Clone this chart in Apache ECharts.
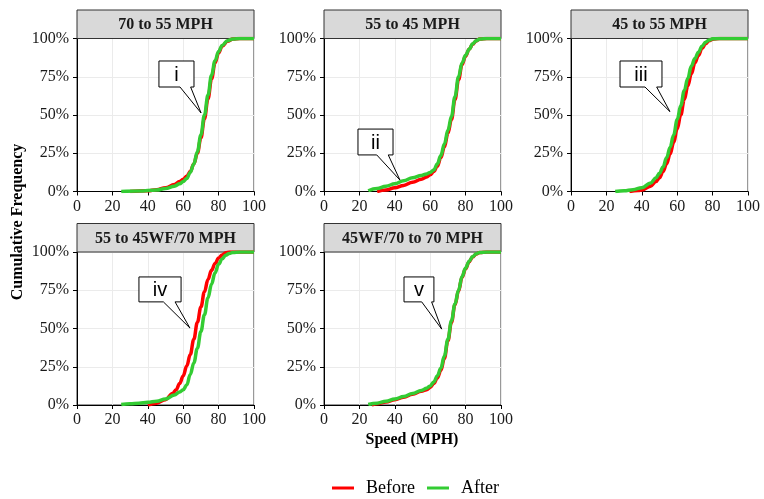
<!DOCTYPE html>
<html>
<head>
<meta charset="utf-8">
<script src="https://cdn.jsdelivr.net/npm/echarts@6/dist/echarts.min.js"></script>
<style>html,body{margin:0;padding:0;background:#fff}#c{width:764px;height:499px}</style>
</head>
<body>
<div id="c"></div>
<script>
// ---- data ----
const panelTitles = ['70 to 55 MPH', '55 to 45 MPH', '45 to 55 MPH', '55 to 45WF/70 MPH', '45WF/70 to 70 MPH'];
const seriesNames = ['Before', 'After'];
const xTicks = [0, 20, 40, 60, 80, 100];
const yTicks = [0, 0.25, 0.5, 0.75, 1];

const p1Before = [[30,0],[40,0.005],[45,0.012],[50,0.025],[55,0.045],[58,0.065],[60,0.08],[62,0.10],[64,0.13],[66,0.18],[68,0.25],[70,0.35],[72,0.475],[74,0.605],[76,0.735],[78,0.84],[80,0.905],[82,0.95],[85,0.982],[88,0.996],[92,1],[100,1]];
const p1After = [[25,0],[35,0.003],[45,0.01],[50,0.02],[55,0.035],[58,0.05],[60,0.065],[62,0.085],[64,0.125],[66,0.18],[68,0.26],[70,0.37],[72,0.50],[74,0.63],[76,0.76],[78,0.855],[80,0.915],[82,0.955],[85,0.985],[88,0.997],[92,1],[100,1]];

const p2Before = [[30,0],[35,0.01],[40,0.025],[45,0.04],[50,0.06],[55,0.08],[58,0.095],[60,0.11],[62,0.13],[64,0.165],[66,0.22],[68,0.29],[70,0.38],[72,0.47],[74,0.60],[76,0.73],[78,0.83],[80,0.885],[82,0.93],[84,0.962],[86,0.984],[88,0.996],[92,1],[100,1]];
const p2After = [[25,0.005],[30,0.02],[35,0.035],[40,0.05],[45,0.07],[50,0.09],[55,0.105],[58,0.115],[60,0.125],[62,0.14],[64,0.18],[66,0.235],[68,0.31],[70,0.40],[72,0.49],[74,0.62],[76,0.75],[78,0.84],[80,0.89],[82,0.93],[84,0.965],[86,0.985],[88,0.997],[92,1],[100,1]];

const p3Before = [[33,0],[38,0.006],[40,0.01],[45,0.035],[48,0.065],[50,0.09],[52,0.13],[54,0.18],[56,0.245],[58,0.32],[60,0.41],[62,0.50],[64,0.60],[66,0.69],[68,0.77],[70,0.84],[72,0.89],[74,0.935],[76,0.965],[78,0.985],[80,0.995],[84,1],[100,1]];
const p3After = [[25,0],[30,0.005],[35,0.012],[40,0.025],[45,0.055],[48,0.09],[50,0.12],[52,0.16],[54,0.22],[56,0.29],[58,0.37],[60,0.47],[62,0.56],[64,0.66],[66,0.74],[68,0.82],[70,0.87],[72,0.91],[74,0.95],[76,0.975],[78,0.99],[80,0.998],[83,1],[100,1]];

const p4Before = [[40,0],[45,0.012],[50,0.035],[54,0.075],[56,0.10],[58,0.14],[60,0.19],[62,0.255],[64,0.33],[66,0.43],[68,0.54],[70,0.64],[72,0.74],[74,0.82],[76,0.88],[78,0.925],[80,0.96],[82,0.98],[84,0.995],[86,1],[100,1]];
const p4After = [[25,0.003],[30,0.008],[35,0.012],[40,0.018],[45,0.025],[50,0.04],[55,0.065],[58,0.085],[60,0.10],[62,0.13],[64,0.20],[66,0.275],[68,0.37],[70,0.48],[72,0.59],[74,0.70],[76,0.79],[78,0.865],[80,0.92],[82,0.955],[84,0.978],[86,0.99],[88,0.997],[92,1],[100,1]];

const p5Before = [[27,0],[30,0.008],[35,0.02],[40,0.035],[45,0.05],[50,0.07],[55,0.09],[58,0.10],[60,0.115],[62,0.14],[64,0.175],[66,0.225],[68,0.305],[70,0.42],[72,0.54],[74,0.655],[76,0.745],[78,0.835],[80,0.89],[82,0.937],[84,0.968],[86,0.987],[88,0.997],[92,1],[100,1]];
const p5After = [[25,0.003],[30,0.012],[35,0.025],[40,0.04],[45,0.055],[50,0.075],[55,0.095],[58,0.11],[60,0.125],[62,0.15],[64,0.19],[66,0.24],[68,0.32],[70,0.43],[72,0.55],[74,0.66],[76,0.75],[78,0.84],[80,0.895],[82,0.94],[84,0.97],[86,0.988],[88,0.997],[92,1],[100,1]];

// callouts: label, box [x1, x2, yTop, yBottom], tail base [xL, xR], tip [x, y] (data units)
const calloutLabels = ['i', 'ii', 'iii', 'iv', 'v'];
const calloutBoxes = [[46.3,66.1,0.853,0.683],[19.2,39.0,0.408,0.239],[27.7,51.4,0.853,0.683],[35.0,58.8,0.837,0.674],[45.2,62.1,0.837,0.674]];
const calloutBases = [[58.2,64.2],[29.8,36.3],[41.8,48.4],[48.8,55.4],[55.2,60.8]];
const calloutTips = [[70.1,0.513],[42.9,0.075],[55.9,0.522],[63.8,0.503],[66.5,0.496]];

// ---- layout ----
const SERIF = "'Liberation Serif','Times New Roman',serif";
const SANS = "'Liberation Sans',Arial,sans-serif";
const panelLeft = [77, 324, 571, 77, 324];
const panelTop = [38.5, 38.5, 38.5, 252, 252];
const PW = 177, PH = 153, STRIP = 28.5;
const beforeData = [p1Before, p2Before, p3Before, p4Before, p5Before];
const afterData = [p1After, p2After, p3After, p4After, p5After];
const colors = {Before: '#ff0000', After: '#33cc33'};

const grids = [], xAxes = [], yAxes = [], series = [], graphics = [];
for (let i = 0; i < 5; i++) {
  grids.push({left: panelLeft[i], top: panelTop[i], width: PW, height: PH, show: true,
    borderColor: '#333', borderWidth: 1, backgroundColor: '#fff'});
  xAxes.push({type: 'value', gridIndex: i, min: xTicks[0], max: xTicks[xTicks.length-1], interval: 20,
    axisLine: {show: true, onZero: false, lineStyle: {color: '#000', width: 1}},
    axisTick: {show: true, length: 4, lineStyle: {color: '#000'}},
    axisLabel: {color: '#1a1a1a', fontFamily: SERIF, fontSize: 16, margin: 7},
    splitLine: {show: true, lineStyle: {color: '#ebebeb', width: 1}}});
  yAxes.push({type: 'value', gridIndex: i, min: yTicks[0], max: yTicks[yTicks.length-1], interval: 0.25,
    axisLine: {show: true, onZero: false, lineStyle: {color: '#000', width: 1}},
    axisTick: {show: true, length: 4, lineStyle: {color: '#000'}},
    axisLabel: {color: '#1a1a1a', fontFamily: SERIF, fontSize: 16, margin: 8,
      formatter: v => Math.round(v * 100) + '%'},
    splitLine: {show: true, lineStyle: {color: '#ebebeb', width: 1}}});
  [['Before', beforeData[i]], ['After', afterData[i]]].forEach(([name, d], k) => {
    series.push({type: 'line', name: name, xAxisIndex: i, yAxisIndex: i, data: d,
      showSymbol: false, smooth: 0.4, smoothMonotone: 'x', z: 2 + k,
      lineStyle: {color: colors[name], width: 3.5}, itemStyle: {color: colors[name]}});
  });
  const box = calloutBoxes[i], base = calloutBases[i], tip = calloutTips[i];
  series.push({type: 'custom', xAxisIndex: i, yAxisIndex: i, z: 10, clip: false, silent: true,
    data: [[box[0], box[1], box[2], box[3], base[0], base[1], tip[0], tip[1]]],
    encode: {x: [0, 1, 4, 5, 6], y: [2, 3, 7]},
    renderItem: (params, api) => {
      const tl = api.coord([api.value(0), api.value(2)]);
      const br = api.coord([api.value(1), api.value(3)]);
      const bl = api.coord([api.value(4), api.value(3)]);
      const brr = api.coord([api.value(5), api.value(3)]);
      const tp = api.coord([api.value(6), api.value(7)]);
      const pts = [[tl[0], tl[1]], [br[0], tl[1]], [br[0], br[1]], [brr[0], br[1]], tp, [bl[0], br[1]], [tl[0], br[1]]];
      return {type: 'group', children: [
        {type: 'polygon', shape: {points: pts}, style: {fill: '#fff', stroke: '#000', lineWidth: 1}},
        {type: 'text', style: {text: calloutLabels[i], x: (tl[0] + br[0]) / 2, y: (tl[1] + br[1]) / 2 + 1,
          align: 'center', verticalAlign: 'middle', font: '20px ' + SANS, fill: '#000'}}
      ]};
    }});
  graphics.push({type: 'rect', shape: {x: panelLeft[i], y: panelTop[i] - STRIP, width: PW, height: STRIP},
    style: {fill: '#d9d9d9', stroke: '#333', lineWidth: 1}, z: 1});
  graphics.push({type: 'text', x: panelLeft[i] + PW / 2, y: panelTop[i] - STRIP / 2 + 1,
    style: {text: panelTitles[i], align: 'center', verticalAlign: 'middle',
      font: 'bold 16px ' + SERIF, fill: '#1a1a1a'}, z: 2});
}
graphics.push({type: 'text', x: 18, y: 222, rotation: Math.PI / 2,
  style: {text: 'Cumulative Frequency', align: 'center', verticalAlign: 'middle', font: 'bold 16px ' + SERIF, fill: '#000'}});
graphics.push({type: 'text', x: 412, y: 440,
  style: {text: 'Speed (MPH)', align: 'center', verticalAlign: 'middle', font: 'bold 16px ' + SERIF, fill: '#000'}});

const chart = echarts.init(document.getElementById('c'), null, {renderer: 'canvas'});
chart.setOption({
  animation: false,
  backgroundColor: '#fff',
  grid: grids, xAxis: xAxes, yAxis: yAxes, series: series, graphic: graphics,
  legend: {data: seriesNames, left: 327, top: 474, icon: 'rect', itemWidth: 22, itemHeight: 3, itemGap: 12,
    textStyle: {fontFamily: SERIF, fontSize: 18, color: '#000', padding: [0, 0, 0, 7]}}
});
</script>
</body>
</html>
